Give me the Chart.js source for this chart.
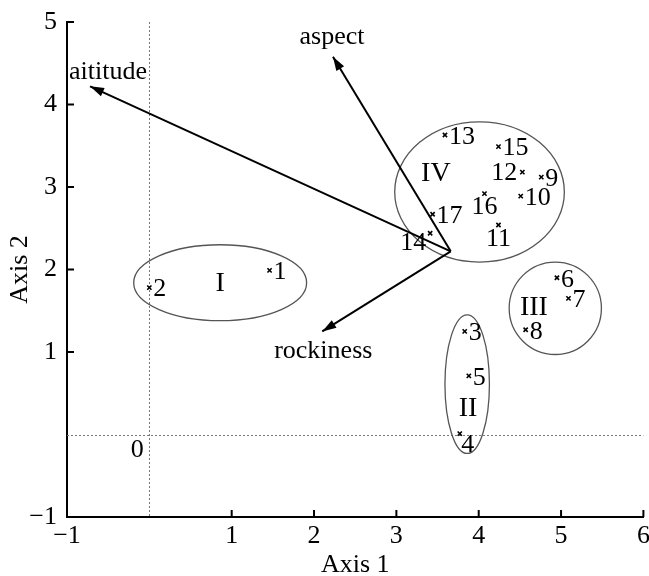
<!DOCTYPE html>
<html>
<head>
<meta charset="utf-8">
<script src="https://cdn.jsdelivr.net/npm/chart.js"></script>
<style>
  body { margin: 0; background: #fff; }
  canvas { display: block; }
</style>
</head>
<body>
<canvas id="myChart" width="649" height="576"></canvas>
<script>
// sample plots
const plotIds = ['1','2','3','4','5','6','7','8','9','10','11','12','13','14','15','16','17'];
const axis1 = [1.46, 0.00, 3.83, 3.77, 3.88, 4.95, 5.09, 4.57, 4.76, 4.51, 4.24, 4.53, 3.59, 3.41, 4.24, 4.07, 3.44];
const axis2 = [1.99, 1.78, 1.25, 0.01, 0.71, 1.90, 1.65, 1.27, 3.12, 2.89, 2.54, 3.18, 3.63, 2.44, 3.49, 2.92, 2.67];

// environment vectors
const vectorNames = ['aititude', 'aspect', 'rockiness'];
const vectorOrigin = [3.66, 2.22];
const vectorX = [-0.72, 2.23, 2.10];
const vectorY = [4.22, 4.58, 1.25];

// groups
const groupNames = ['I', 'II', 'III', 'IV'];
const groupX = [0.86, 3.86, 4.93, 4.01];
const groupY = [1.84, 0.61, 1.53, 2.94];
const groupRx = [1.05, 0.27, 0.56, 1.03];
const groupRy = [0.46, 0.84, 0.56, 0.85];
const groupLabelX = [0.86, 3.87, 4.67, 3.48];
const groupLabelY = [1.84, 0.32, 1.55, 3.17];

// axes
const xTicks = [-1, 0, 1, 2, 3, 4, 5, 6];
const yTicks = [-1, 0, 1, 2, 3, 4, 5];

// where the number sits next to its mark (r = right, l = left, b = below ...)
const labelSide = ['r','r','r','br','r','r','r','r','r','r','b','l','r','bl','r','b','r'];
// offsets of vector names from the arrow tip, px
const vectorLabelPos = [
    {dx: -21, dy: -14, align: 'left'},
    {dx: -1, dy: -19, align: 'center'},
    {dx: 1, dy: 20, align: 'center'}
];

const SERIF = '"Liberation Serif", "Times New Roman", serif';
Chart.defaults.font.family = SERIF;
Chart.defaults.color = '#000';

function tickText(v) {
    if (v === 0) return '';
    return v < 0 ? '\u2212' + Math.abs(v) : String(v);
}

const ordiPlugin = {
    id: 'ordi',
    beforeDatasetsDraw(chart) {
        const {ctx, chartArea: a, scales: {x, y}} = chart;
        ctx.save();
        // zero lines
        ctx.strokeStyle = '#777';
        ctx.lineWidth = 1;
        ctx.setLineDash([2, 2]);
        const x0 = Math.round(x.getPixelForValue(0)) + 0.5;
        const y0 = Math.round(y.getPixelForValue(0)) + 0.5;
        ctx.beginPath();
        ctx.moveTo(x0, a.top); ctx.lineTo(x0, a.bottom);
        ctx.moveTo(a.left, y0); ctx.lineTo(a.right, y0);
        ctx.stroke();
        ctx.setLineDash([]);
        // group ellipses
        ctx.strokeStyle = '#555';
        ctx.lineWidth = 1.3;
        groupNames.forEach((g, i) => {
            const cx = x.getPixelForValue(groupX[i]);
            const cy = y.getPixelForValue(groupY[i]);
            const rx = Math.abs(x.getPixelForValue(groupX[i] + groupRx[i]) - cx);
            const ry = Math.abs(y.getPixelForValue(groupY[i] + groupRy[i]) - cy);
            ctx.beginPath();
            ctx.ellipse(cx, cy, rx, ry, 0, 0, Math.PI * 2);
            ctx.stroke();
        });
        ctx.restore();
    },
    afterDatasetsDraw(chart) {
        const {ctx, chartArea: a, scales: {x, y}} = chart;
        ctx.save();
        // arrow heads + names
        chart.data.datasets.forEach((ds, di) => {
            if (ds.type !== 'line') return;
            const pts = chart.getDatasetMeta(di).data;
            const p0 = pts[0], p1 = pts[1];
            const ang = Math.atan2(p1.y - p0.y, p1.x - p0.x);
            const len = 14, hw = 4.5;
            ctx.fillStyle = '#000';
            ctx.beginPath();
            ctx.moveTo(p1.x, p1.y);
            ctx.lineTo(p1.x - len * Math.cos(ang) + hw * Math.sin(ang), p1.y - len * Math.sin(ang) - hw * Math.cos(ang));
            ctx.lineTo(p1.x - len * Math.cos(ang) - hw * Math.sin(ang), p1.y - len * Math.sin(ang) + hw * Math.cos(ang));
            ctx.closePath();
            ctx.fill();
            const lp = vectorLabelPos[ds.vectorIndex];
            ctx.font = '26px ' + SERIF;
            ctx.textAlign = lp.align;
            ctx.textBaseline = 'middle';
            ctx.fillText(ds.label, p1.x + lp.dx, p1.y + lp.dy);
        });
        // plot numbers
        const meta = chart.getDatasetMeta(0);
        ctx.font = '26px ' + SERIF;
        ctx.textBaseline = 'middle';
        ctx.fillStyle = '#000';
        meta.data.forEach((pt, i) => {
            const side = labelSide[i];
            let tx = pt.x, ty = pt.y;
            if (side === 'r') { ctx.textAlign = 'left'; tx += 4; ty += 2; }
            else if (side === 'l') { ctx.textAlign = 'right'; tx -= 5; ty += 1; }
            else if (side === 'b') { ctx.textAlign = 'center'; ty += 14; }
            else if (side === 'br') { ctx.textAlign = 'center'; tx += 8; ty += 11; }
            else if (side === 'bl') { ctx.textAlign = 'right'; tx -= 4; ty += 10; }
            ctx.fillText(plotIds[i], tx, ty);
        });
        // group names
        ctx.font = '28px ' + SERIF;
        ctx.textAlign = 'center';
        groupNames.forEach((g, i) => {
            ctx.fillText(g, x.getPixelForValue(groupLabelX[i]), y.getPixelForValue(groupLabelY[i]) + 1);
        });
        // inner tick marks
        ctx.strokeStyle = '#000';
        ctx.lineWidth = 2;
        ctx.beginPath();
        xTicks.forEach(v => {
            if (v <= 0) return;
            const px = x.getPixelForValue(v);
            ctx.moveTo(px, a.bottom); ctx.lineTo(px, a.bottom - 7);
        });
        yTicks.forEach(v => {
            if (v <= 0) return;
            const py = y.getPixelForValue(v);
            ctx.moveTo(a.left, py); ctx.lineTo(a.left + 7, py);
        });
        ctx.stroke();
        // origin label
        ctx.font = '26px ' + SERIF;
        ctx.textAlign = 'center';
        ctx.fillText('0', x.getPixelForValue(0) - 12, y.getPixelForValue(0) + 16);
        ctx.restore();
    }
};

const ctx = document.getElementById('myChart').getContext('2d');

const plotData = plotIds.map((id, i) => ({x: axis1[i], y: axis2[i]}));
const arrowSets = vectorNames.map((name, i) => ({
    type: 'line',
    label: name,
    vectorIndex: i,
    data: [{x: vectorOrigin[0], y: vectorOrigin[1]}, {x: vectorX[i], y: vectorY[i]}],
    borderColor: '#000',
    borderWidth: 2,
    pointRadius: 0,
    fill: false
}));

const ordination = new Chart(ctx, {
    type: 'scatter',
    data: {
        datasets: [{
            label: 'plots',
            data: plotData,
            pointStyle: 'crossRot',
            pointRadius: 3,
            borderColor: '#000',
            borderWidth: 1.6
        }, ...arrowSets]
    },
    options: {
        responsive: false,
        animation: false,
        layout: { padding: { top: 22, right: 4, left: 0, bottom: 0 } },
        plugins: {
            legend: { display: false },
            tooltip: { enabled: false }
        },
        scales: {
            x: {
                type: 'linear',
                min: xTicks[0],
                max: xTicks[xTicks.length - 1],
                afterBuildTicks: s => { s.ticks = xTicks.map(v => ({value: v})); },
                afterFit: s => { s.height = 59; s.paddingLeft = 0; s.paddingRight = 0; },
                grid: { display: false, drawTicks: false },
                border: { display: true, color: '#000', width: 2 },
                ticks: {
                    callback: tickText,
                    font: { size: 26, family: SERIF },
                    color: '#000',
                    padding: 4,
                    maxRotation: 0,
                    autoSkip: false
                },
                title: {
                    display: true,
                    text: 'Axis 1',
                    font: { size: 26, family: SERIF, lineHeight: 1 },
                    color: '#000',
                    padding: { top: 0, bottom: -2 }
                }
            },
            y: {
                type: 'linear',
                min: yTicks[0],
                max: yTicks[yTicks.length - 1],
                afterBuildTicks: s => { s.ticks = yTicks.map(v => ({value: v})); },
                afterFit: s => { s.width = 67; s.paddingTop = 0; s.paddingBottom = 0; },
                grid: { display: false, drawTicks: false },
                border: { display: true, color: '#000', width: 2 },
                ticks: {
                    callback: tickText,
                    font: { size: 26, family: SERIF },
                    color: '#000',
                    padding: 10,
                    autoSkip: false
                },
                title: {
                    display: true,
                    text: 'Axis 2',
                    font: { size: 26, family: SERIF, lineHeight: 1 },
                    color: '#000',
                    padding: { top: 7, bottom: 0 }
                }
            }
        }
    },
    plugins: [ordiPlugin]
});
</script>
</body>
</html>
